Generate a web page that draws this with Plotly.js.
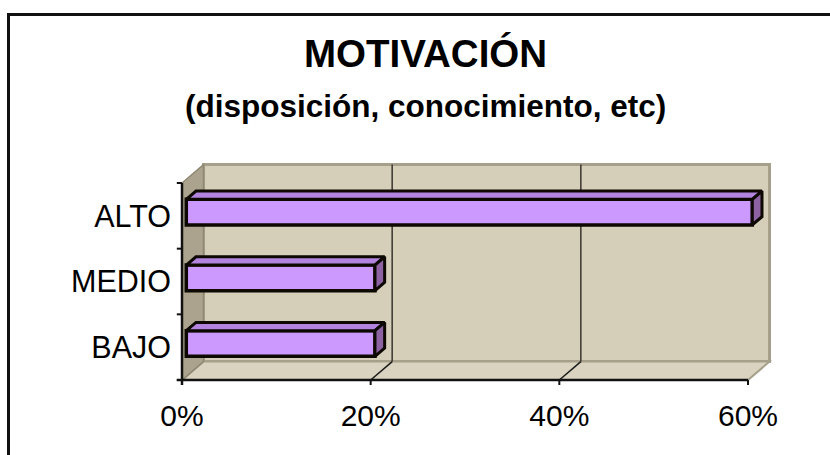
<!DOCTYPE html>
<html>
<head>
<meta charset="utf-8">
<script src="https://cdn.plot.ly/plotly-3.0.1.min.js"></script>
<style>
  html, body { margin:0; padding:0; background:#ffffff; overflow:hidden; }
  #wrap { position:relative; width:830px; height:455px; }
  #frame { position:absolute; left:7px; top:13px; width:900px; height:500px; border:3px solid #111; box-sizing:border-box; }
  #chart { position:absolute; left:0; top:0; width:830px; height:455px; }
</style>
</head>
<body>
<div id="wrap">
  <div id="frame"></div>
  <div id="chart"></div>
</div>
<script>
// ---- data ----
const titleText = "MOTIVACIÓN";
const subtitleText = "(disposición, conocimiento, etc)";
const categories = ["ALTO", "MEDIO", "BAJO"];
const values = [0.60, 0.20, 0.20];
const xTickVals = [0, 0.2, 0.4, 0.6];
const xTickText = ["0%", "20%", "40%", "60%"];

// ---- 3D look constants (style) ----
const DX = 0.0228;   // depth offset in x units
const DY = 0.28;     // depth offset in category units
const F1 = 0.2, F2 = 0.65; // bar depth span (fraction of full depth)
const H = 0.195;     // half bar height (category units)
const TLX = 0.0055, TLY = 0.076; // tick lengths

const n = categories.length;
const yb = -0.5, yt = n - 0.5;
const xmax = xTickVals[xTickVals.length - 1];
const idx = categories.map((c, i) => n - 1 - i);

function poly(pts) {
  return "M " + pts.map(p => p[0] + "," + p[1]).join(" L ") + " Z";
}

const shapes = [];
// back wall
shapes.push({type:"rect", xref:"x", yref:"y", x0:DX, x1:xmax+DX, y0:yb+DY, y1:yt+DY,
  fillcolor:"#d5cfb9", line:{color:"#a69f89", width:3}, layer:"below"});
// floor
shapes.push({type:"path", xref:"x", yref:"y", path: poly([[0,yb],[xmax,yb],[xmax+DX,yb+DY],[DX,yb+DY]]),
  fillcolor:"#d9d3bf", line:{color:"#a69f89", width:2}, layer:"below"});
// left wall
shapes.push({type:"path", xref:"x", yref:"y", path: poly([[0,yb],[0,yt],[DX,yt+DY],[DX,yb+DY]]),
  fillcolor:"#aba38d", line:{color:"#8f8873", width:1.5}, layer:"below"});
// gridlines
xTickVals.forEach(t => {
  if (t > 0 && t < xmax) {
    shapes.push({type:"line", xref:"x", yref:"y", x0:t+DX, x1:t+DX, y0:yb+DY, y1:yt+DY,
      line:{color:"#3a3530", width:1.5}, layer:"below"});
    shapes.push({type:"line", xref:"x", yref:"y", x0:t, x1:t+DX, y0:yb, y1:yb+DY,
      line:{color:"#1a1a1a", width:1.5}, layer:"below"});
  }
});
// front axes
shapes.push({type:"line", xref:"x", yref:"y", x0:-TLX, x1:xmax, y0:yb, y1:yb, line:{color:"#111", width:2.5}});
shapes.push({type:"line", xref:"x", yref:"y", x0:0, x1:0, y0:yb-TLY, y1:yt, line:{color:"#111", width:2.5}});
xTickVals.forEach(t => {
  shapes.push({type:"line", xref:"x", yref:"y", x0:t, x1:t, y0:yb, y1:yb-TLY, line:{color:"#111", width:2}});
});
for (let b = 0; b <= n; b++) {
  shapes.push({type:"line", xref:"x", yref:"y", x0:0, x1:-TLX, y0:b-0.5, y1:b-0.5, line:{color:"#111", width:2}});
}

const traces = [];
// front faces (bars)
traces.push({
  type:"bar", orientation:"h",
  y: idx.map(c => c + F1*DY),
  x: values,
  base: F1*DX,
  width: 2*H,
  marker:{color:"#cc99ff", line:{color:"#0d0800", width:3.5}},
  hoverinfo:"x+text", text: categories, textposition:"none"
});
// top & side faces
values.forEach((v, i) => {
  const c = idx[i];
  traces.push({
    type:"scatter", mode:"lines", fill:"toself", fillcolor:"#b384df",
    x:[F1*DX, v+F1*DX, v+F2*DX, F2*DX, F1*DX],
    y:[c+H+F1*DY, c+H+F1*DY, c+H+F2*DY, c+H+F2*DY, c+H+F1*DY],
    line:{color:"#0d0800", width:3}, hoverinfo:"skip", showlegend:false
  });
  traces.push({
    type:"scatter", mode:"lines", fill:"toself", fillcolor:"#8c62a3",
    x:[v+F1*DX, v+F2*DX, v+F2*DX, v+F1*DX, v+F1*DX],
    y:[c+H+F1*DY, c+H+F2*DY, c-H+F2*DY, c-H+F1*DY, c+H+F1*DY],
    line:{color:"#0d0800", width:3}, hoverinfo:"skip", showlegend:false
  });
});

// pixel geometry of plot area
const L = 172, R = 782, T = 158, B = 386;
const kx = 566 / xmax;          // px per x unit
const ky = 197 / n;             // px per category
const font = "'Liberation Sans', Arial, Helvetica, sans-serif";

const layout = {
  width:830, height:455,
  margin:{l:L, r:830-R, t:T, b:455-B, pad:0},
  paper_bgcolor:"rgba(0,0,0,0)", plot_bgcolor:"rgba(0,0,0,0)",
  showlegend:false,
  font:{family:font, color:"#000"},
  xaxis:{
    range:[(L-182)/kx, (R-182)/kx],
    showgrid:false, zeroline:false, showline:false,
    tickmode:"array", tickvals:xTickVals, ticktext:xTickText,
    ticks:"outside", ticklen:3, tickcolor:"rgba(0,0,0,0)",
    tickfont:{family:font, size:30, color:"#000"}, fixedrange:true
  },
  yaxis:{
    range:[(380-B)/ky - 0.5, (380-T)/ky - 0.5],
    showgrid:false, zeroline:false, showline:false,
    tickmode:"array", tickvals:idx, ticktext:categories,
    ticks:"", tickfont:{family:font, size:30.5, color:"#000"}, fixedrange:true
  },
  shapes: shapes,
  annotations:[
    {text:"<b>"+titleText+"</b>", xref:"paper", yref:"paper",
     x:(425-L)/(R-L), y:(B-54)/(B-T), xanchor:"center", yanchor:"middle",
     showarrow:false, font:{family:font, size:38.5, color:"#000"}},
    {text:"<b>"+subtitleText+"</b>", xref:"paper", yref:"paper",
     x:(425-L)/(R-L), y:(B-106)/(B-T), xanchor:"center", yanchor:"middle",
     showarrow:false, font:{family:font, size:31.5, color:"#000"}}
  ]
};

Plotly.newPlot("chart", traces, layout, {displayModeBar:false, staticPlot:true});
</script>
</body>
</html>
